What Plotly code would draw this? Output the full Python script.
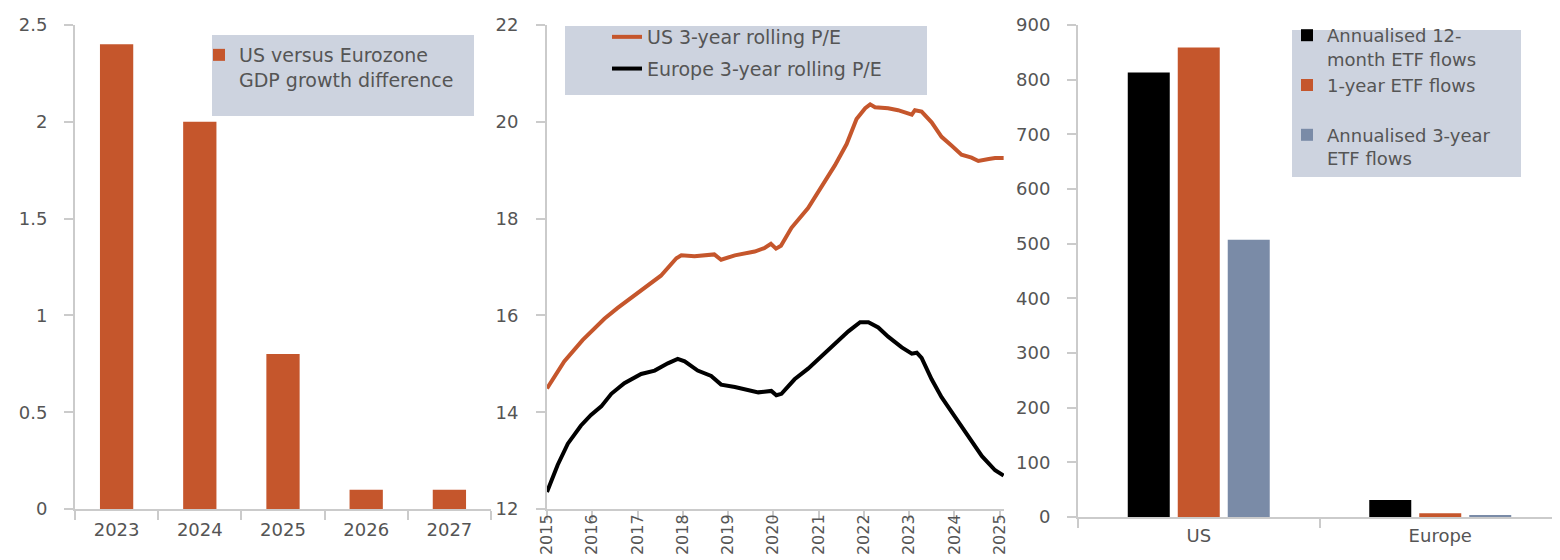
import plotly.graph_objects as go

# ---------------- data ----------------
gdp_years = ["2023", "2024", "2025", "2026", "2027"]
gdp_diff = [2.4, 2.0, 0.8, 0.1, 0.1]

us_pe_dates = ["2015-01-01", "2015-05-20", "2015-10-15", "2016-04-08", "2016-07-22", "2017-01-01",
               "2017-07-08", "2017-11-10", "2017-12-20", "2018-04-05", "2018-09-12", "2018-11-06",
               "2019-02-25", "2019-08-04", "2019-10-20", "2019-12-13", "2020-01-23", "2020-03-03",
               "2020-05-27", "2020-10-08", "2021-01-27", "2021-05-12", "2021-08-15", "2021-11-03",
               "2022-01-12", "2022-02-21", "2022-04-01", "2022-07-16", "2022-10-04", "2022-12-13",
               "2023-01-23", "2023-02-17", "2023-04-12", "2023-07-02", "2023-09-20", "2023-12-09",
               "2024-02-28", "2024-05-19", "2024-07-13", "2024-10-05", "2024-11-25", "2025-02-02"]
us_pe = [14.49, 15.05, 15.49, 15.93, 16.15, 16.45,
         16.82, 17.18, 17.24, 17.22, 17.26, 17.15,
         17.24, 17.32, 17.39, 17.48, 17.38, 17.44,
         17.81, 18.22, 18.66, 19.10, 19.54, 20.06,
         20.28, 20.36, 20.30, 20.28, 20.24, 20.19,
         20.15, 20.24, 20.21, 19.99, 19.69, 19.51,
         19.32, 19.26, 19.19, 19.23, 19.25, 19.25]

eu_pe_dates = ["2015-01-01", "2015-03-28", "2015-06-18", "2015-10-01", "2015-12-20", "2016-03-14",
               "2016-06-03", "2016-09-16", "2017-01-30", "2017-05-19", "2017-09-02", "2017-11-21",
               "2018-01-16", "2018-05-01", "2018-08-18", "2018-11-06", "2019-02-25", "2019-06-10",
               "2019-09-02", "2019-12-16", "2020-01-26", "2020-03-07", "2020-06-21", "2020-10-08",
               "2021-01-27", "2021-05-12", "2021-08-29", "2021-12-02", "2022-02-07", "2022-04-27",
               "2022-07-16", "2022-11-03", "2023-01-23", "2023-03-04", "2023-04-12", "2023-07-02",
               "2023-09-20", "2024-01-08", "2024-04-23", "2024-08-11", "2024-11-25", "2025-02-02"]
eu_pe = [12.35, 12.91, 13.35, 13.72, 13.94, 14.12,
         14.38, 14.60, 14.79, 14.86, 15.01, 15.10,
         15.05, 14.86, 14.75, 14.57, 14.52, 14.46,
         14.41, 14.44, 14.35, 14.38, 14.68, 14.90,
         15.16, 15.41, 15.67, 15.86, 15.86, 15.75,
         15.56, 15.34, 15.21, 15.23, 15.12, 14.68,
         14.31, 13.90, 13.50, 13.09, 12.80, 12.69]

pe_years = ["2015", "2016", "2017", "2018", "2019", "2020", "2021", "2022", "2023", "2024", "2025"]

flow_regions = ["US", "Europe"]
flows_12m = [813, 31]
flows_1y = [859, 7]
flows_3y = [507, 2]

# ---------------- style ----------------
ORANGE = "#C5562C"
BLACK = "#000000"
SLATE = "#7A8BA7"
LEG_BG = "#CDD3DF"
AXIS = "#CBCBCB"
TXT = "#555555"
FONT = "DejaVu Sans"
W, H = 1560, 560


def px_x(p):
    return p / W


def px_y(p):
    return 1 - p / H


fig = go.Figure()

fig.add_trace(go.Bar(x=gdp_years, y=gdp_diff, name="US versus Eurozone<br>GDP growth difference",
                     marker=dict(color=ORANGE), width=0.4, xaxis="x", yaxis="y",
                     legend="legend", showlegend=True))

fig.add_trace(go.Scatter(x=us_pe_dates, y=us_pe, mode="lines", name="US 3-year rolling P/E",
                         line=dict(color=ORANGE, width=4), xaxis="x2", yaxis="y2",
                         legend="legend2", legendgroup="us", showlegend=True))
fig.add_trace(go.Scatter(x=eu_pe_dates, y=eu_pe, mode="lines", name="Europe 3-year rolling P/E",
                         line=dict(color=BLACK, width=4), xaxis="x2", yaxis="y2",
                         legend="legend2", legendgroup="eu", showlegend=True))

fig.add_trace(go.Bar(x=flow_regions, y=flows_12m, name="Annualised 12-<br>month ETF flows",
                     marker=dict(color=BLACK), xaxis="x3", yaxis="y3", legend="legend3",
                     showlegend=True))
fig.add_trace(go.Bar(x=flow_regions, y=flows_1y, name="1-year ETF flows<br> ",
                     marker=dict(color=ORANGE), xaxis="x3", yaxis="y3", legend="legend3",
                     showlegend=True))
fig.add_trace(go.Bar(x=flow_regions, y=flows_3y, name="Annualised 3-year<br>ETF flows",
                     marker=dict(color=SLATE), xaxis="x3", yaxis="y3", legend="legend3",
                     showlegend=True))

axis_common = dict(showline=True, linecolor=AXIS, linewidth=2, ticks="outside", ticklen=9,
                   tickwidth=2, tickcolor=AXIS, showgrid=False, zeroline=False,
                   tickfont=dict(family=FONT, size=18, color=TXT), automargin=False,
                   fixedrange=True)

y_dom12 = [px_y(501), px_y(17)]
y_dom3 = [px_y(509), px_y(17)]

legend_common = dict(bgcolor="rgba(0,0,0,0)", borderwidth=0, xanchor="left", yanchor="top",
                     font=dict(family=FONT, size=18, color=TXT), valign="top",
                     itemclick=False, itemdoubleclick=False)

fig.update_layout(
    width=W, height=H, template="none",
    margin=dict(l=0, r=0, t=0, b=0),
    paper_bgcolor="white", plot_bgcolor="white",
    barmode="group", bargap=0.379, bargroupgap=0.16,
    font=dict(family=FONT, color=TXT),
    showlegend=True,
    xaxis=dict(axis_common, domain=[px_x(67), px_x(483)], anchor="y", type="category",
               tickson="boundaries", range=[-0.5, 4.5], ticklabelstandoff=3),
    yaxis=dict(axis_common, domain=y_dom12, anchor="x", range=[0, 2.5], dtick=0.5,
               tick0=0, ticklabelstandoff=13),
    xaxis2=dict(axis_common, domain=[px_x(539), px_x(996)], anchor="y2", type="date",
                range=["2015-01-01", "2025-02-05"],
                tickvals=[y + "-01-01" for y in pe_years], ticktext=pe_years,
                tickangle=-90, ticklabelstandoff=-12,
                tickfont=dict(family=FONT, size=16, color=TXT)),
    yaxis2=dict(axis_common, domain=y_dom12, anchor="x2", range=[12, 22], dtick=2,
                tick0=12, ticklabelstandoff=14),
    xaxis3=dict(axis_common, domain=[px_x(1070), px_x(1553)], anchor="y3", type="category",
                tickson="boundaries", range=[-0.5, 1.5], ticklabelstandoff=1),
    yaxis3=dict(axis_common, domain=y_dom3, anchor="x3", range=[0, 900], dtick=100,
                tick0=0, ticklabelstandoff=13),
    legend=dict(legend_common, x=px_x(191), y=px_y(28), font=dict(family=FONT, size=19, color=TXT)),
    legend2=dict(legend_common, x=px_x(599), y=px_y(10), tracegroupgap=4,
                 font=dict(family=FONT, size=19, color=TXT)),
    legend3=dict(legend_common, x=px_x(1279), y=px_y(9)),
    shapes=[
        dict(type="rect", xref="paper", yref="paper", x0=px_x(204), x1=px_x(466),
             y0=px_y(108), y1=px_y(27), fillcolor=LEG_BG, line=dict(width=0), layer="below"),
        dict(type="rect", xref="paper", yref="paper", x0=px_x(557), x1=px_x(919),
             y0=px_y(87), y1=px_y(18), fillcolor=LEG_BG, line=dict(width=0), layer="below"),
        dict(type="rect", xref="paper", yref="paper", x0=px_x(1284), x1=px_x(1513),
             y0=px_y(169), y1=px_y(22), fillcolor=LEG_BG, line=dict(width=0), layer="below"),
    ],
)

fig.write_html("out.html")
